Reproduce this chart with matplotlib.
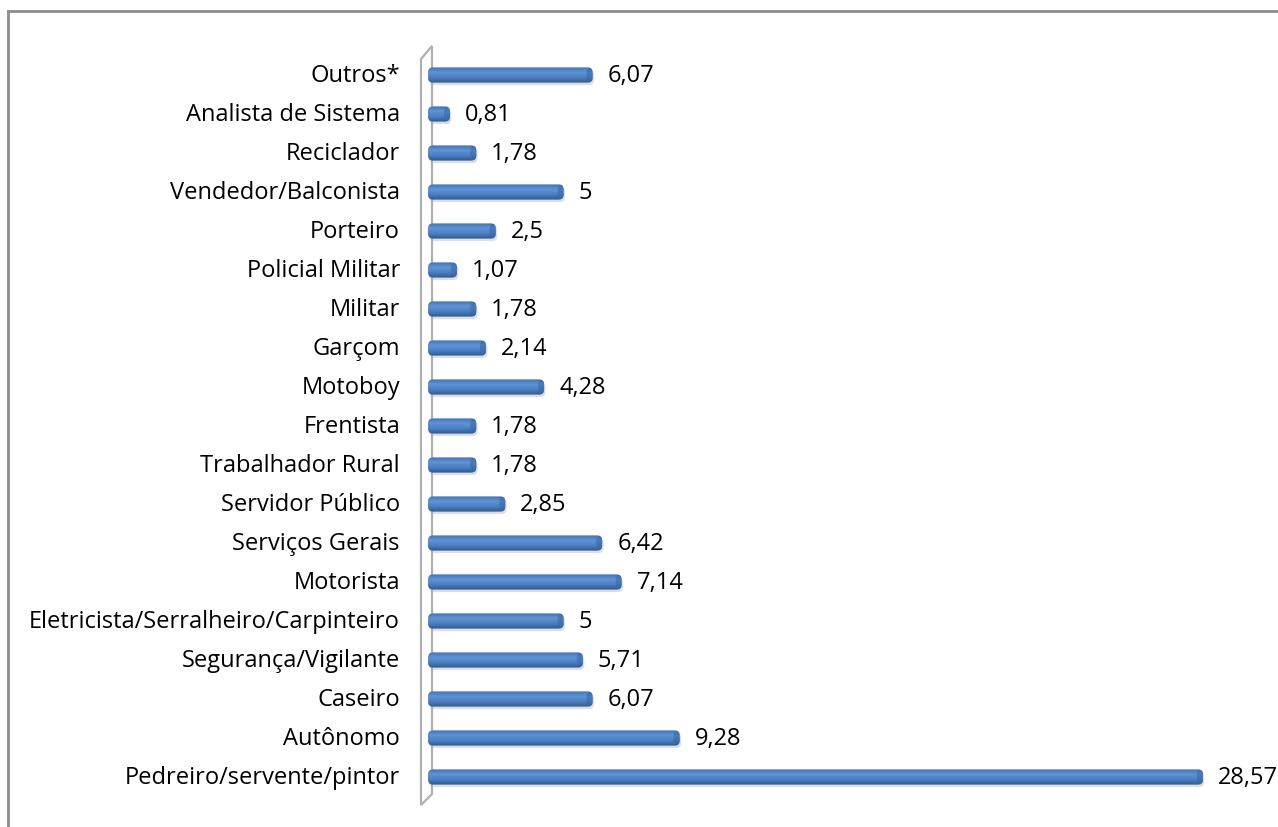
import matplotlib
matplotlib.use("Agg")
import numpy as np
import matplotlib.pyplot as plt
from matplotlib.patches import Polygon, FancyBboxPatch
from matplotlib.lines import Line2D
from matplotlib.colors import LinearSegmentedColormap

categories = ["Pedreiro/servente/pintor", "Autônomo", "Caseiro", "Segurança/Vigilante",
              "Eletricista/Serralheiro/Carpinteiro", "Motorista", "Serviços Gerais",
              "Servidor Público", "Trabalhador Rural", "Frentista", "Motoboy", "Garçom",
              "Militar", "Policial Militar", "Porteiro", "Vendedor/Balconista",
              "Reciclador", "Analista de Sistema", "Outros*"]
values = [28.57, 9.28, 6.07, 5.71, 5, 7.14, 6.42, 2.85, 1.78, 1.78, 4.28, 2.14,
          1.78, 1.07, 2.5, 5, 1.78, 0.81, 6.07]
value_labels = ["28,57", "9,28", "6,07", "5,71", "5", "7,14", "6,42", "2,85", "1,78",
                "1,78", "4,28", "2,14", "1,78", "1,07", "2,5", "5", "1,78", "0,81", "6,07"]

plt.rcParams['font.family'] = ['Open Sans', 'DejaVu Sans']

W, H = 1278, 828
fig = plt.figure(figsize=(W / 100, H / 100), dpi=100)
fig.patch.set_facecolor("white")

# border (top and left visible)
fig.add_artist(Line2D([8 / W, 8 / W], [0, 1 - 12 / H], transform=fig.transFigure,
                      color="#8c8c8c", lw=2))
fig.add_artist(Line2D([8 / W, 1], [1 - 12 / H, 1 - 12 / H], transform=fig.transFigure,
                      color="#8c8c8c", lw=2))

x0 = 428
ppu = (1203 - 428) / 28.57
xmax = 30
ax_w = xmax * ppu
row_px = 39
ytop = 76 - row_px / 2
ybot = 778 + row_px / 2
ax = fig.add_axes([x0 / W, (H - ybot) / H, ax_w / W, (ybot - ytop) / H])
ax.set_xlim(0, xmax)
ax.set_ylim(-0.5, len(categories) - 0.5)
ax.axis("off")

fig.canvas.draw()
def px2data(px, py):
    inv = ax.transData.inverted()
    return inv.transform((px, H - py))

# 3D wall on the left
wall_pts = [(421, 60), (432, 47), (432, 795), (421, 806)]
wall = Polygon([px2data(*p) for p in wall_pts], closed=True, facecolor="white",
               edgecolor="#b0b0b0", lw=1.6, clip_on=False, zorder=1)
ax.add_patch(wall)

# bar gradient (bottom -> top)
cmap = LinearSegmentedColormap.from_list(
    "bar", ["#2F5A8E", "#3D6BA6", "#4B7DBE", "#5489CB", "#5E93D6", "#5085C6", "#4170AC"])
grad = np.linspace(0, 1, 64).reshape(-1, 1)

bh = 0.39
m_aspect = ppu / row_px
r = 5 / ppu
shadow_off = 2.5 / row_px
for i, v in enumerate(values):
    # soft shadow
    sh = FancyBboxPatch((0.05, i - bh / 2 - shadow_off), v, bh,
                        boxstyle=f"round,pad=0,rounding_size={r}",
                        mutation_aspect=m_aspect, facecolor="#9aa6b5", alpha=0.35,
                        edgecolor="none", zorder=2)
    ax.add_patch(sh)
    box = FancyBboxPatch((0, i - bh / 2), v, bh,
                         boxstyle=f"round,pad=0,rounding_size={r}",
                         mutation_aspect=m_aspect, facecolor="none",
                         edgecolor="none", zorder=3)
    ax.add_patch(box)
    im = ax.imshow(grad, cmap=cmap, aspect="auto", origin="lower",
                   extent=(0, v, i - bh / 2, i + bh / 2), zorder=3,
                   interpolation="bilinear")
    im.set_clip_path(box)
    # darker right cap
    cw = min(6 / ppu, v * 0.5)
    cap = FancyBboxPatch((v - cw, i - bh / 2), cw, bh,
                         boxstyle=f"round,pad=0,rounding_size={r}",
                         mutation_aspect=m_aspect, facecolor="#3A66A0", alpha=0.55,
                         edgecolor="none", zorder=4)
    ax.add_patch(cap)
    ax.text(v + 15 / ppu, i, value_labels[i], va="center", ha="left", fontsize=17,
            color="black", zorder=6)
    ax.text(-28 / ppu, i, categories[i], va="center", ha="right", fontsize=17,
            color="black", clip_on=False)

ax.set_xlim(0, xmax)
ax.set_ylim(-0.5, len(categories) - 0.5)
fig.savefig("out.png", dpi=100, facecolor="white")
